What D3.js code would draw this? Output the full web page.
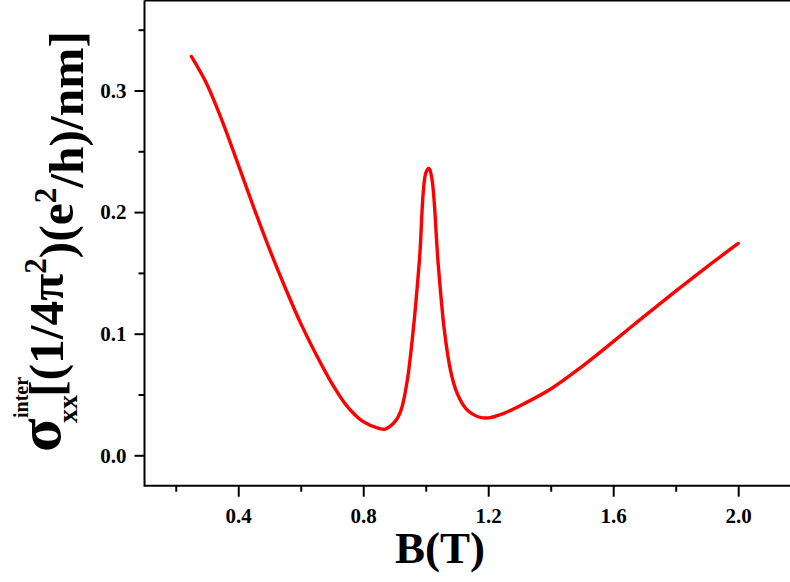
<!DOCTYPE html>
<html>
<head>
<meta charset="utf-8">
<script src="https://cdn.jsdelivr.net/npm/d3@7"></script>
<style>
  html, body { margin: 0; padding: 0; background: #fff; }
  svg { display: block; }
  text { font-family: "Liberation Serif", "Times New Roman", serif; font-weight: bold; fill: #000; }
</style>
</head>
<body>
<svg id="chart" width="790" height="582"></svg>
<script>
// Magnetic field B (T)
const fieldB = [0.25, 0.30, 0.35, 0.40, 0.45, 0.50, 0.55, 0.60, 0.65, 0.70,
  0.75, 0.80, 0.85, 0.87, 0.90, 0.92, 0.94, 0.96, 0.98, 1.00,
  1.01, 1.02, 1.04, 1.06, 1.08, 1.10, 1.13, 1.17, 1.20, 1.25,
  1.30, 1.40, 1.50, 1.60, 1.70, 1.80, 1.90, 2.00];
// Inter-band conductivity sigma_xx
const sigmaXX = [0.328, 0.305, 0.274, 0.239, 0.2035, 0.1695, 0.138, 0.1085, 0.0825, 0.059,
  0.0399, 0.0277, 0.0222, 0.0216, 0.0272, 0.0364, 0.060, 0.103, 0.161, 0.232,
  0.2359, 0.227, 0.157, 0.102, 0.069, 0.0513, 0.038, 0.0315, 0.0308, 0.0345,
  0.0405, 0.0545, 0.0730, 0.0935, 0.1145, 0.1350, 0.1550, 0.1742];

const xMajorTicks = [0.4, 0.8, 1.2, 1.6, 2.0];
const xMinorTicks = [0.2, 0.6, 1.0, 1.4, 1.8];
const yMajorTicks = [0.0, 0.1, 0.2, 0.3];
const yMinorTicks = [0.05, 0.15, 0.25, 0.35];

const svg = d3.select("#chart");

const x = d3.scaleLinear().domain([0.1, 2.2]).range([144.5, 800.7]);
const y = d3.scaleLinear().domain([-0.025, 0.374]).range([485.7, 0.5]);

// Frame: left, top and bottom borders
const plotLeft = x.range()[0], plotBottom = y.range()[0], plotTop = y.range()[1];
svg.append("path")
  .attr("d", `M${plotLeft},${plotTop}H800M${plotLeft},${plotTop}V${plotBottom}H800`)
  .attr("fill", "none").attr("stroke", "#000").attr("stroke-width", 2);

// Bottom axis
const xAxis = svg.append("g").attr("transform", `translate(0,${plotBottom})`);
xAxis.call(d3.axisBottom(x).tickValues(xMajorTicks).tickSize(11).tickPadding(11)
  .tickFormat(d3.format(".1f")));
xAxis.append("g").call(d3.axisBottom(x).tickValues(xMinorTicks).tickSize(6).tickFormat(""));
xAxis.selectAll(".domain").remove();
xAxis.selectAll("line").attr("stroke-width", 2);
xAxis.selectAll("text").style("font-size", "21px").style("font-family", "'Liberation Serif', serif")
  .style("font-weight", "bold");

// Left axis
const yAxis = svg.append("g").attr("transform", `translate(${plotLeft},0)`);
yAxis.call(d3.axisLeft(y).tickValues(yMajorTicks).tickSize(10).tickPadding(8)
  .tickFormat(d3.format(".1f")));
yAxis.append("g").call(d3.axisLeft(y).tickValues(yMinorTicks).tickSize(6).tickFormat(""));
yAxis.selectAll(".domain").remove();
yAxis.selectAll("line").attr("stroke-width", 2);
yAxis.selectAll("text").style("font-size", "21px").style("font-family", "'Liberation Serif', serif")
  .style("font-weight", "bold");

// Curve
const line = d3.line()
  .x((d, i) => x(fieldB[i]))
  .y((d, i) => y(sigmaXX[i]))
  .curve(d3.curveCatmullRom.alpha(0.5));
svg.append("path")
  .datum(sigmaXX)
  .attr("d", line)
  .attr("fill", "none")
  .attr("stroke", "#ff0000")
  .attr("stroke-width", 3.4)
  .attr("stroke-linejoin", "round")
  .attr("stroke-linecap", "round");

// X axis title
svg.append("text")
  .attr("x", 440).attr("y", 563)
  .attr("text-anchor", "middle")
  .style("font-size", "45px")
  .text("B(T)");

// Y axis title (rotated)
const yt = svg.append("g").attr("transform", "translate(63,0) rotate(-90)");
yt.append("text").attr("x", -452).attr("y", -3)
  .style("font-size", "62px").text("σ");
yt.append("text").attr("x", -418).attr("y", -35)
  .style("font-size", "20px").text("inter");
yt.append("text").attr("x", -423).attr("y", 14)
  .style("font-size", "28px").text("xx");
const main = yt.append("text").attr("x", -397).attr("y", 0).style("font-size", "49.5px");
main.append("tspan").text("[(1/4π");
main.append("tspan").attr("dy", "-0.55em").style("font-size", "31px").text("2");
main.append("tspan").attr("dy", "0.55em").text(")(e");
main.append("tspan").attr("dy", "-0.55em").style("font-size", "31px").text("2");
main.append("tspan").attr("dy", "0.55em").text("/h)/nm]");
</script>
</body>
</html>
